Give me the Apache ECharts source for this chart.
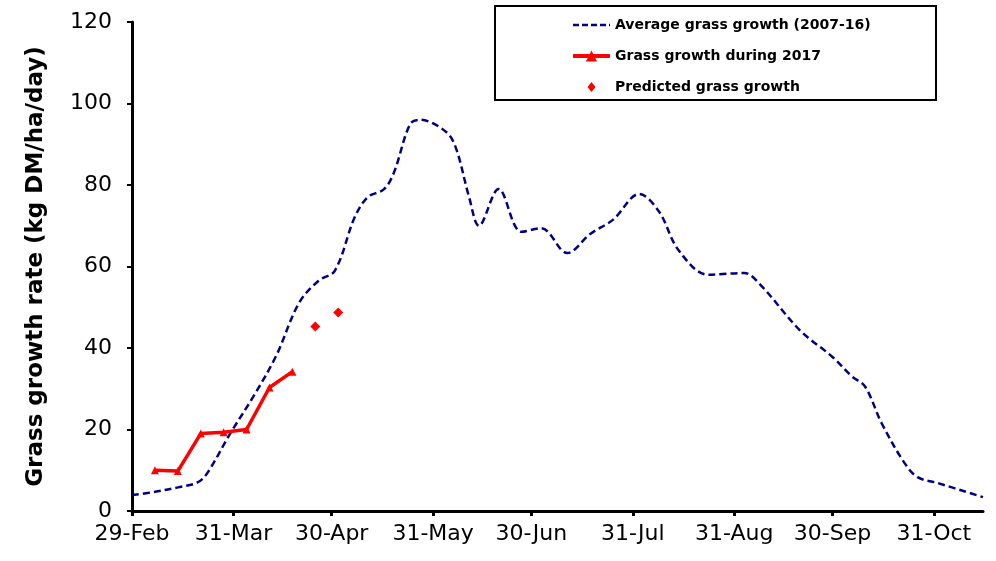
<!DOCTYPE html>
<html>
<head>
<meta charset="utf-8">
<title>Grass growth</title>
<script src="https://cdn.jsdelivr.net/npm/echarts@6/dist/echarts.min.js"></script>
<style>
	html, body { margin: 0; padding: 0; background: #fff; }
	#main { width: 996px; height: 561px; }
</style>
</head>
<body>
<div id="main"></div>
<script>
// x values are days counted from 29-Feb
var tickDays = [0, 31, 61, 92, 122, 153, 184, 214, 245];
var tickLabels = ['29-Feb', '31-Mar', '30-Apr', '31-May', '30-Jun', '31-Jul', '31-Aug', '30-Sep', '31-Oct'];

// average grass growth (2007-16)
var avgDays = [0, 7, 14, 20, 23, 30, 37, 44, 51, 57, 62, 68, 72, 77, 80, 85, 88, 96, 99, 103, 106, 112, 119, 125, 133, 140, 147, 155, 161, 167, 176, 187, 192, 204, 214, 220, 224, 229, 236, 240, 246, 260];
var avgValues = [3.9, 4.7, 5.8, 7.0, 9.3, 19, 28, 38, 51, 56.5, 59, 72, 77, 79, 83, 95, 96, 93, 89, 77, 70, 79, 68.5, 69.4, 63.3, 68, 71.5, 77.8, 73.5, 64, 58, 58.4, 55.5, 44.4, 37.8, 33, 30.5, 21.6, 11.8, 8.3, 6.9, 3.4];

// grass growth during 2017
var growthDays = [7, 14, 21, 28, 35, 42, 49];
var growthValues = [10, 9.8, 19, 19.3, 20, 30.3, 34.2];

// predicted grass growth
var predDays = [56, 63];
var predValues = [45.3, 48.7];

function pairs(xs, ys) {
	var out = [];
	for (var i = 0; i < xs.length; i++) out.push([xs[i], ys[i]]);
	return out;
}

var myChart = echarts.init(document.getElementById('main'));
var fontFamily = 'DejaVu Sans';

option = {
	backgroundColor : '#ffffff',
	animation : false,
	grid : {
		left : 132,
		right : 13,
		top : 22,
		bottom : 50
	},
	// box round the legend
	graphic : [ {
		type : 'rect',
		shape : { x : 495, y : 6, width : 441, height : 94 },
		style : { fill : 'none', stroke : '#000', lineWidth : 2 },
		z : 0
	} ],
	legend : {
		orient : 'vertical',
		left : 566,
		top : 13,
		itemWidth : 37,
		itemHeight : 14,
		itemGap : 17,
		textStyle : {
			fontFamily : fontFamily,
			fontWeight : 'bold',
			fontSize : 14,
			color : '#000'
		},
		data : [ {
			name : 'Average grass growth (2007-16)',
			itemStyle : { opacity : 0 },
			lineStyle : { width : 2.5, type : [ 6, 3 ] }
		}, {
			name : 'Grass growth during 2017',
			lineStyle : { width : 4 }
		}, {
			name : 'Predicted grass growth',
			// padded so the diamond keeps its small size in the 37x14 slot
			icon : 'path://M0,0 M37,14 M18.5,2 L22.5,7 L18.5,12 L14.5,7 Z'
		} ]
	},
	xAxis : {
		type : 'value',
		min : 0,
		max : 260,
		splitLine : { show : false },
		axisLine : { lineStyle : { color : '#000', width : 3 } },
		axisTick : {
			customValues : tickDays,
			length : 5,
			lineStyle : { color : '#000', width : 3 }
		},
		axisLabel : {
			customValues : tickDays,
			margin : 12,
			fontFamily : fontFamily,
			fontSize : 22,
			color : '#000',
			formatter : function (v) {
				var i = tickDays.indexOf(v);
				return i >= 0 ? tickLabels[i] : '';
			}
		}
	},
	yAxis : {
		type : 'value',
		min : 0,
		max : 120,
		interval : 20,
		name : 'Grass growth rate (kg DM/ha/day)',
		nameLocation : 'middle',
		nameGap : 84,
		nameTextStyle : {
			fontFamily : fontFamily,
			fontWeight : 'bold',
			fontSize : 23,
			color : '#000'
		},
		splitLine : { show : false },
		axisLine : { show : true, lineStyle : { color : '#000', width : 3 } },
		axisTick : { show : true, length : 5, lineStyle : { color : '#000', width : 2 } },
		axisLabel : {
			margin : 20,
			fontFamily : fontFamily,
			fontSize : 22,
			color : '#000'
		}
	},
	series : [ {
		name : 'Average grass growth (2007-16)',
		type : 'line',
		smooth : 0.35,
		symbol : 'none',
		color : '#000080',
		lineStyle : { color : '#000080', width : 2.5, type : [ 7, 4 ] },
		data : pairs(avgDays, avgValues),
		z : 2
	}, {
		name : 'Grass growth during 2017',
		type : 'line',
		symbol : 'triangle',
		symbolSize : 8,
		color : '#ff0000',
		itemStyle : { color : '#ff0000' },
		lineStyle : { color : '#ff0000', width : 3.5 },
		data : pairs(growthDays, growthValues),
		z : 3
	}, {
		name : 'Predicted grass growth',
		type : 'scatter',
		symbol : 'diamond',
		symbolSize : 10,
		itemStyle : { color : '#ff0000', opacity : 1 },
		data : pairs(predDays, predValues),
		z : 3
	} ]
};
myChart.setOption(option);
</script>
</body>
</html>
